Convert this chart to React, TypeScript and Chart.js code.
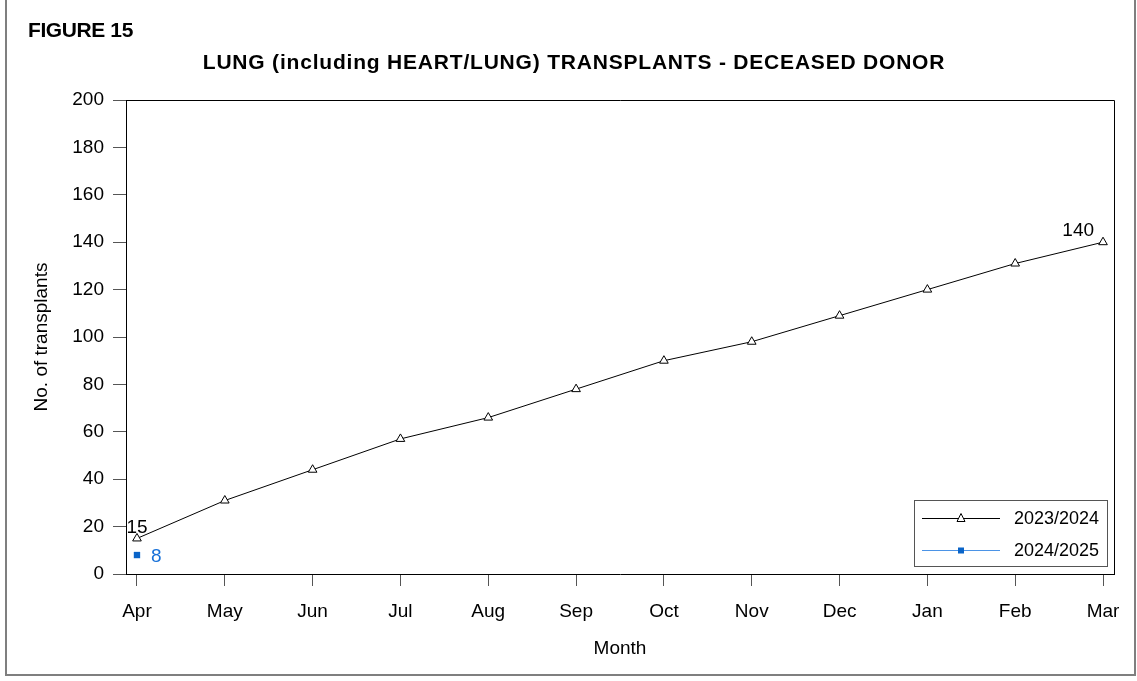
import React, { useEffect, useRef } from 'react';
import { Chart, registerables } from 'chart.js';

Chart.register(...registerables);

const months = ['Apr', 'May', 'Jun', 'Jul', 'Aug', 'Sep', 'Oct', 'Nov', 'Dec', 'Jan', 'Feb', 'Mar'];
const series2023 = [15, 31, 44, 57, 66, 78, 90, 98, 109, 120, 131, 140];
const series2024 = [8];
const seriesNames = ['2023/2024', '2024/2025'];
const figureLabel = 'FIGURE 15';
const chartTitle = 'LUNG (including HEART/LUNG) TRANSPLANTS - DECEASED DONOR';
const xTitle = 'Month';
const yTitle = 'No. of transplants';
const yMin = 0;
const yMax = 200;
const yStep = 20;

const FONT = "'Liberation Sans', Arial, sans-serif";
const BLUE = '#0a64c8';
const BLUE_TEXT = '#1670d8';
const BLUE_LINE = '#4b93e6';

const decorPlugin = {
  id: 'decor',
  beforeDraw(chart: any) {
    const { ctx, width, height } = chart;
    ctx.save();
    ctx.fillStyle = '#ffffff';
    ctx.fillRect(0, 0, width, height);
    // outer frame (left, right, bottom)
    ctx.strokeStyle = '#7f7f7f';
    ctx.lineWidth = 2;
    ctx.beginPath();
    ctx.moveTo(6, 0);
    ctx.lineTo(6, 675);
    ctx.lineTo(1135, 675);
    ctx.lineTo(1135, 0);
    ctx.stroke();
    // titles
    ctx.fillStyle = '#000';
    ctx.textBaseline = 'alphabetic';
    ctx.textAlign = 'left';
    ctx.font = `bold 21px ${FONT}`;
    (ctx as any).letterSpacing = '-0.4px';
    ctx.fillText(figureLabel, 28, 37);
    (ctx as any).letterSpacing = '0.8px';
    ctx.textAlign = 'center';
    ctx.font = `bold 21px ${FONT}`;
    ctx.fillText(chartTitle, 574, 69);
    (ctx as any).letterSpacing = '0px';
    ctx.restore();
  },
  afterDraw(chart: any) {
    const { ctx, chartArea } = chart;
    const { left, right, top, bottom } = chartArea;
    ctx.save();
    // plot frame top & right
    ctx.strokeStyle = '#000';
    ctx.lineWidth = 1;
    ctx.beginPath();
    ctx.moveTo(left, top + 0.5);
    ctx.lineTo(right + 0.5, top + 0.5);
    ctx.lineTo(right + 0.5, bottom);
    ctx.stroke();

    // data labels
    const m0 = chart.getDatasetMeta(0);
    const m1 = chart.getDatasetMeta(1);
    ctx.font = `19px ${FONT}`;
    ctx.fillStyle = '#000';
    const first = m0.data[0];
    ctx.textAlign = 'center';
    ctx.textBaseline = 'alphabetic';
    ctx.fillText(String(series2023[0]), first.x, first.y - 5);
    const lastIdx = series2023.length - 1;
    const last = m0.data[lastIdx];
    ctx.textAlign = 'right';
    ctx.fillText(String(series2023[lastIdx]), last.x - 9, last.y - 6);
    const p = m1.data[0];
    ctx.fillStyle = BLUE_TEXT;
    ctx.textAlign = 'left';
    ctx.textBaseline = 'middle';
    ctx.fillText(String(series2024[0]), p.x + 14, p.y + 2);

    // legend box
    const lx = right - 200;
    const ly = bottom - 74;
    const lw = 193;
    const lh = 66;
    ctx.fillStyle = '#fff';
    ctx.fillRect(lx, ly, lw, lh);
    ctx.strokeStyle = '#555';
    ctx.lineWidth = 1;
    ctx.strokeRect(lx + 0.5, ly + 0.5, lw, lh);
    const rows = [ly + 18, ly + 50];
    // row 1
    ctx.strokeStyle = '#000';
    ctx.beginPath();
    ctx.moveTo(lx + 8, rows[0] + 0.5);
    ctx.lineTo(lx + 86, rows[0] + 0.5);
    ctx.stroke();
    const cx = lx + 47;
    ctx.fillStyle = '#fff';
    ctx.beginPath();
    ctx.moveTo(cx, rows[0] - 4.5);
    ctx.lineTo(cx - 4, rows[0] + 3.5);
    ctx.lineTo(cx + 4, rows[0] + 3.5);
    ctx.closePath();
    ctx.fill();
    ctx.stroke();
    // row 2
    ctx.strokeStyle = BLUE_LINE;
    ctx.beginPath();
    ctx.moveTo(lx + 8, rows[1] + 0.5);
    ctx.lineTo(lx + 86, rows[1] + 0.5);
    ctx.stroke();
    ctx.fillStyle = BLUE;
    ctx.fillRect(cx - 3, rows[1] - 2.5, 6, 6);
    // texts
    ctx.fillStyle = '#000';
    ctx.font = `18px ${FONT}`;
    ctx.textAlign = 'left';
    ctx.textBaseline = 'middle';
    ctx.fillText(seriesNames[0], lx + 100, rows[0] + 1);
    ctx.fillText(seriesNames[1], lx + 100, rows[1] + 1);
    ctx.restore();
  },
};

export default function App() {
  const ref = useRef<HTMLCanvasElement | null>(null);
  useEffect(() => {
    document.body.style.margin = '0';
    const canvas = ref.current!;
    const chart = new Chart(canvas, {
      type: 'line',
      data: {
        datasets: [
          {
            label: seriesNames[0],
            data: series2023.map((v, i) => ({ x: i, y: v })),
            borderColor: '#000',
            borderWidth: 1,
            backgroundColor: '#fff',
            pointStyle: 'triangle',
            pointRadius: 5,
            pointBorderColor: '#000',
            pointBackgroundColor: '#fff',
            pointBorderWidth: 1,
            tension: 0,
          },
          {
            label: seriesNames[1],
            data: series2024.map((v, i) => ({ x: i, y: v })),
            borderColor: BLUE_LINE,
            borderWidth: 1,
            backgroundColor: BLUE,
            pointStyle: 'rect',
            pointRadius: 4.5,
            pointBorderColor: BLUE,
            pointBackgroundColor: BLUE,
            pointBorderWidth: 0,
          },
        ],
      },
      options: {
        responsive: false,
        animation: false,
        devicePixelRatio: 1,
        layout: { padding: { top: 100, right: 23, bottom: 0, left: 0 } },
        plugins: {
          legend: { display: false },
          title: { display: false },
          tooltip: { enabled: false },
        },
        scales: {
          x: {
            type: 'linear',
            min: -0.125,
            max: months.length - 1 + 0.125,
            afterBuildTicks: (scale: any) => {
              scale.ticks = months.map((_, i) => ({ value: i }));
            },
            afterFit: (scale: any) => {
              scale.height = 107;
            },
            ticks: {
              autoSkip: false,
              maxRotation: 0,
              color: '#000',
              font: { family: FONT, size: 19 },
              padding: 14,
              callback: (v: any) => months[Math.round(Number(v))] ?? '',
            },
            grid: { drawOnChartArea: false, drawTicks: true, tickLength: 12, color: '#555' },
            border: { display: true, color: '#000', width: 1 },
            title: {
              display: true,
              text: xTitle,
              color: '#000',
              font: { family: FONT, size: 19 },
              padding: { top: 0, bottom: 21 },
            },
          },
          y: {
            min: yMin,
            max: yMax,
            ticks: {
              stepSize: yStep,
              color: '#000',
              font: { family: FONT, size: 19 },
              padding: 9,
            },
            afterFit: (scale: any) => {
              scale.width = 126;
            },
            grid: { drawOnChartArea: false, drawTicks: true, tickLength: 13, color: '#555' },
            border: { display: true, color: '#000', width: 1 },
            title: {
              display: true,
              text: yTitle,
              color: '#000',
              font: { family: FONT, size: 19 },
              padding: { top: 30, bottom: 0 },
            },
          },
        },
      },
      plugins: [decorPlugin],
    } as any);
    return () => chart.destroy();
  }, []);
  return (
    <div style={{ position: 'absolute', left: 0, top: 0, width: 1137, height: 681 }}>
      <canvas ref={ref} width={1137} height={681} />
    </div>
  );
}
